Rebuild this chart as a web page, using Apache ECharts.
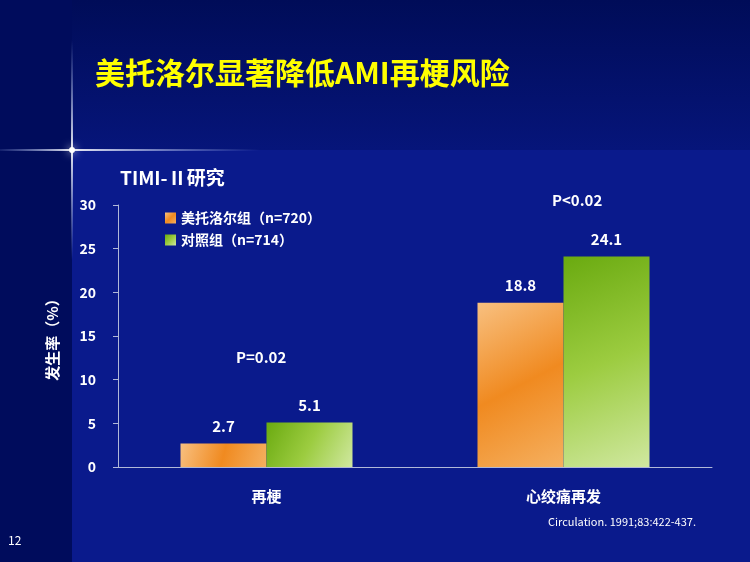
<!DOCTYPE html>
<html><head><meta charset="utf-8">
<script src="https://cdn.jsdelivr.net/npm/echarts@6/dist/echarts.min.js"></script>
<style>html,body{margin:0;padding:0;background:#0a1a8a}</style>
</head><body>
<div id="main" style="width:750px;height:562px"></div>
<script>
var categories = ['再梗', '心绞痛再发'];
var metoprolol = [2.7, 18.8];
var control = [5.1, 24.1];
var pValues = ['P=0.02', 'P<0.02'];

var chart = echarts.init(document.getElementById('main'));
var font = '"Noto Sans CJK SC", "Liberation Sans", sans-serif';

var orange = new echarts.graphic.LinearGradient(0, 0, 1, 1, [
    {offset: 0, color: '#f8c080'}, {offset: 0.5, color: '#f08a20'}, {offset: 1, color: '#f5b060'}]);
var green = new echarts.graphic.LinearGradient(0, 0, 1, 1, [
    {offset: 0, color: '#6aaa10'}, {offset: 0.5, color: '#9ccc40'}, {offset: 1, color: '#d0e8a0'}]);

option = {
    backgroundColor: '#0a1a8c',
    textStyle: {fontFamily: font},
    graphic: [
        {type: 'rect', shape: {x: 0, y: 0, width: 750, height: 150}, style: {fill: new echarts.graphic.LinearGradient(0, 0, 0, 1, [
            {offset: 0, color: '#000c58'}, {offset: 1, color: '#06157a'}])}, z: -10},
        {type: 'rect', shape: {x: 0, y: 0, width: 72, height: 562}, style: {fill: '#000c5c'}, z: -9},
        {type: 'rect', shape: {x: 0, y: 149, width: 260, height: 2}, style: {fill: new echarts.graphic.LinearGradient(0, 0, 1, 0, [
            {offset: 0, color: 'rgba(180,200,255,0.1)'}, {offset: 0.28, color: 'rgba(255,255,255,0.9)'}, {offset: 1, color: 'rgba(180,200,255,0)'}])}, z: -8},
        {type: 'rect', shape: {x: 71, y: 40, width: 2, height: 220}, style: {fill: new echarts.graphic.LinearGradient(0, 0, 0, 1, [
            {offset: 0, color: 'rgba(180,200,255,0)'}, {offset: 0.5, color: 'rgba(255,255,255,0.9)'}, {offset: 1, color: 'rgba(180,200,255,0)'}])}, z: -8},
        {type: 'circle', shape: {cx: 72, cy: 150, r: 3}, style: {fill: '#ffffff', shadowBlur: 8, shadowColor: '#ffffff'}, z: -7},
        {type: 'text', left: 95, top: 58, style: {text: '美托洛尔显著降低AMI再梗风险', fill: '#ffff00', font: 'bold 30px ' + font}},
        {type: 'text', left: 120, top: 168, style: {text: 'TIMI-Ⅱ研究', fill: '#ffffff', font: 'bold 19px ' + font}},
        {type: 'text', left: 236, top: 350, style: {text: pValues[0], fill: '#ffffff', font: 'bold 15px ' + font}},
        {type: 'text', left: 552, top: 193, style: {text: pValues[1], fill: '#ffffff', font: 'bold 15px ' + font}},
        {type: 'text', left: 8, top: 534, style: {text: '12', fill: '#ffffff', font: '12px ' + font}},
        {type: 'text', left: 548, top: 516, style: {text: 'Circulation. 1991;83:422-437.', fill: '#ffffff', font: '11px ' + font}}
    ],
    legend: {
        left: 160, top: 206, orient: 'vertical', itemGap: 8, itemWidth: 11, itemHeight: 11,
        icon: 'rect',
        textStyle: {color: '#ffffff', fontSize: 14, fontWeight: 'bold', fontFamily: font}
    },
    grid: {left: 118, right: 38, top: 205, bottom: 95},
    xAxis: {
        type: 'category', data: categories,
        axisLine: {lineStyle: {color: '#b0b8d8'}},
        axisTick: {lineStyle: {color: '#b0b8d8'}},
        axisLabel: {color: '#ffffff', fontSize: 15, fontWeight: 'bold', margin: 22}
    },
    yAxis: {
        type: 'value', min: 0, max: 30, interval: 5,
        name: '发生率（%）', nameLocation: 'middle', nameGap: 58, nameRotate: 90,
        nameTextStyle: {color: '#ffffff', fontSize: 15, fontWeight: 'bold'},
        axisLine: {show: true, lineStyle: {color: '#b0b8d8'}},
        axisTick: {show: true, lineStyle: {color: '#b0b8d8'}},
        splitLine: {show: false},
        axisLabel: {color: '#ffffff', fontSize: 14, fontWeight: 'bold', margin: 22}
    },
    series: [
        {name: '美托洛尔组（n=720）', type: 'bar', data: metoprolol, barWidth: 86, barGap: '0%',
         itemStyle: {color: orange},
         label: {show: true, position: 'top', distance: 10, color: '#ffffff', fontSize: 15, fontWeight: 'bold'}},
        {name: '对照组（n=714）', type: 'bar', data: control, barWidth: 86,
         itemStyle: {color: green},
         label: {show: true, position: 'top', distance: 10, color: '#ffffff', fontSize: 15, fontWeight: 'bold'}}
    ]
};
chart.setOption(option);
</script>
</body></html>
